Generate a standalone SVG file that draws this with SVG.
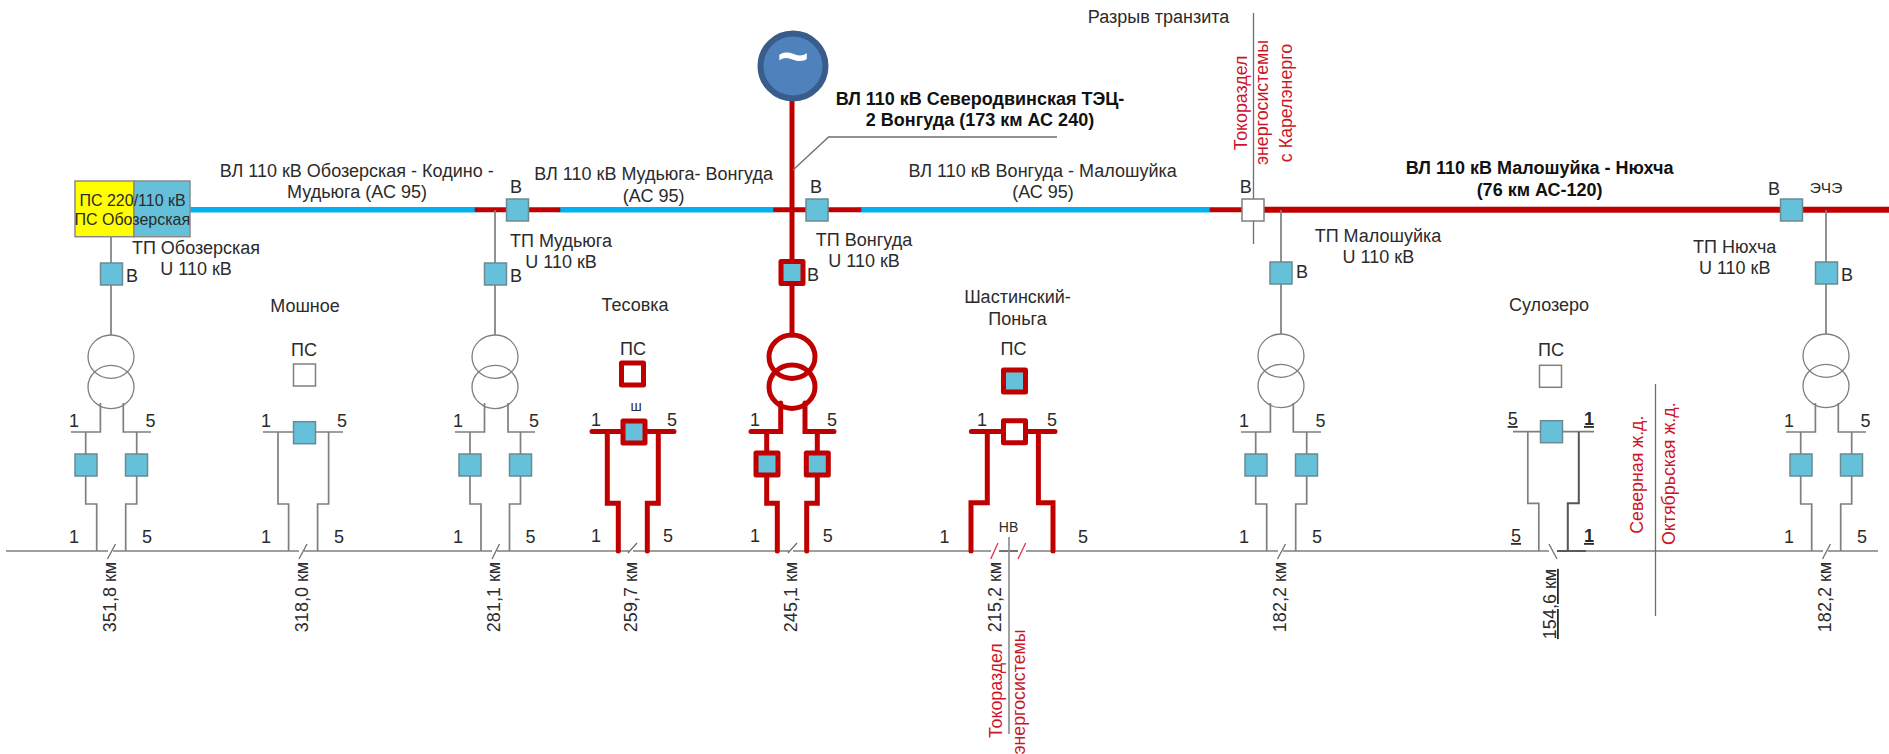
<svg xmlns="http://www.w3.org/2000/svg" width="1889" height="754" viewBox="0 0 1889 754">
<style>
text{font-family:"Liberation Sans",Arial,sans-serif;font-size:18px;fill:#2b2b2b;text-anchor:middle}
.b{font-weight:bold;fill:#111}
.r{fill:#cc1428;font-size:17.800px}
.s{font-size:14px}
.u{text-decoration:underline}
.ub{text-decoration:underline;font-weight:bold}
.w{fill:none;stroke:#7f7f7f;stroke-width:1.7}
.t{fill:none;stroke:#6e6e6e;stroke-width:1.3}
.rw{fill:none;stroke:#c00000;stroke-width:5;stroke-linecap:round;stroke-linejoin:miter}
.bl{fill:none;stroke:#00b0f0;stroke-width:5.500}
.bx{fill:#65c1d9;stroke:#6b8a93;stroke-width:1.500}
.wh{fill:#fff;stroke:#7f7f7f;stroke-width:1.500}
.rb{fill:#65c1d9;stroke:#c00000;stroke-width:5;stroke-linejoin:round}
.rbw{fill:#fff;stroke:#c00000;stroke-width:5;stroke-linejoin:round}
.c{fill:none;stroke:#7f7f7f;stroke-width:1.300}
.rc{fill:none;stroke:#c00000;stroke-width:5}
</style>
<g id="connectors">
<path class="w" d="M6 551H108M113 551H299M304 551H492M497 551H629M633 551H789M793 551H991M1026 551H1278M1283 551H1549M1557 551H1823M1828 551H1878"/>
<path d="M999 551H1018M1557 551H1586" fill="none" stroke="#444" stroke-width="1.700"/>
<path class="t" d="M107.500 559L115.500 544M299 559L307 544M492 559L499.500 544M628 553L637 543M788 553L797 543M1277.500 559L1285.500 544M1549 544L1557 559M1822.500 559L1830.500 544"/>
<path fill="none" stroke="#dd3344" stroke-width="1.300" d="M990.700 559L998 543M1018 559L1025.700 543"/>
<path class="bl" d="M190 209.700H477M558 209.700H775M859 209.700H1212"/>
<path class="rw" d="M477 209.700H507M529 209.700H558M775.500 209.700H806M828 209.700H859M1212 209.700H1242"/>
<path d="M1264 209.700H1889" fill="none" stroke="#c00000" stroke-width="6"/>
<path class="w" d="M111 237V335M495 210V335M1281 210V334M1826 210V334"/>
<path class="rw" d="M792 98V335"/>
<path class="t" d="M793 170L828.600 137H1057"/>
<path class="t" d="M1253.500 13V244M1655.500 384V616"/>
<path d="M1009 537V734" fill="none" stroke="#8a8a8a" stroke-width="1.600"/>
<path class="w" d="M71 432H100.400V403M151 432H123.300V403M85.700 432V504H96.700V551M136.700 432V504H125.700V551"/>
<path class="w" d="M263 432H343M278 432V504H288.600V551M328.600 432V504H317.600V551"/>
<path class="w" d="M455 432H484.500V403M535 432H508V403M470 432V504H481V551M520.500 432V504H509.500V551"/>
<path class="rw" d="M592 431.500H674M607.300 431.500V503.300H618.300V551M658.300 431.500V503.300H647.300V551"/>
<path class="rw" d="M751 431.500H780.700V403M834 431.500H805V403M766.700 431.500V503.300H777.300V551M817.300 431.500V503.300H806.700V551"/>
<path class="rw" d="M971.400 431.500H1055M987.300 431.500V502.700H971V551M1038.400 431.500V502.700H1053V551"/>
<path class="w" d="M1241 432H1270.400V403M1321 432H1293.300V403M1255.700 432V504H1266.700V551M1306.700 432V504H1295.700V551"/>
<path class="w" d="M1513 431.700H1594M1527.800 431.700V503.300H1538.800V551"/>
<path d="M1578.800 431.700V503.300H1567.800V551" fill="none" stroke="#555" stroke-width="2"/>
<path class="w" d="M1786 432H1815.400V403M1866 432H1838.300V403M1800.700 432V504H1811.700V551M1851.700 432V504H1840.700V551"/>
</g>
<g id="ps-obozerskaya">
<rect x="75" y="181" width="59" height="55.700" fill="#ffff00" stroke="#8a8a8a" stroke-width="1.500"/>
<rect x="134" y="181" width="56" height="55.700" fill="#65c1d9" stroke="#8a8a8a" stroke-width="1.500"/>
<text x="132.600" y="206" style="font-size:16px">ПС 220/110 кВ</text>
<text x="132.300" y="225" style="font-size:16px">ПС Обозерская</text>
</g>
<g id="tp-obozerskaya">
<rect class="bx" x="100.500" y="263" width="22" height="22"/>
<ellipse class="c" cx="111" cy="356.700" rx="23" ry="21.700"/><ellipse class="c" cx="111" cy="387" rx="23" ry="21.700"/>
<rect class="bx" x="75" y="454" width="22" height="22"/><rect class="bx" x="125.500" y="454" width="22" height="22"/>
<text x="196" y="254.300">ТП Обозерская</text><text x="196" y="275.300">U 110 кВ</text><text x="132" y="281.700">В</text>
<text x="74" y="427">1</text><text x="150.600" y="427">5</text><text x="74" y="543">1</text><text x="147" y="543">5</text>
<text transform="translate(116 597) rotate(-90)">351,8 км</text>
</g>
<g id="moshnoe">
<text x="305" y="312">Мошное</text><text x="304" y="356">ПС</text>
<rect class="wh" x="293.500" y="364" width="22" height="22"/><rect class="bx" x="293.500" y="421.700" width="22" height="22"/>
<text x="266" y="427">1</text><text x="342" y="427">5</text><text x="266" y="543">1</text><text x="339" y="543">5</text>
<text transform="translate(308 597) rotate(-90)">318,0 км</text>
</g>
<g id="tp-mudyuga">
<rect class="bx" x="506.500" y="199" width="22" height="22"/><rect class="bx" x="484.500" y="263" width="22" height="22"/>
<ellipse class="c" cx="495" cy="356.700" rx="23" ry="21.700"/><ellipse class="c" cx="495" cy="387" rx="23" ry="21.700"/>
<rect class="bx" x="459" y="454" width="22" height="22"/><rect class="bx" x="509.500" y="454" width="22" height="22"/>
<text x="516" y="192.700">В</text><text x="561" y="247">ТП Мудьюга</text><text x="561" y="268">U 110 кВ</text><text x="516" y="281.700">В</text>
<text x="458" y="427">1</text><text x="534" y="427">5</text><text x="458" y="543">1</text><text x="530.600" y="543">5</text>
<text transform="translate(500 597) rotate(-90)">281,1 км</text>
</g>
<g id="tesovka">
<text x="635" y="311">Тесовка</text><text x="633" y="355">ПС</text>
<rect class="rbw" x="621.500" y="363" width="22" height="22"/><rect class="rb" x="623" y="421" width="22" height="22"/>
<text x="636" y="411" class="s">ш</text>
<text x="596" y="426">1</text><text x="672" y="426">5</text><text x="596" y="542">1</text><text x="668" y="542">5</text>
<text transform="translate(637 597) rotate(-90)">259,7 км</text>
</g>
<g id="tp-vonguda">
<circle cx="793" cy="66" r="32.500" fill="#4f81bd" stroke="#385d8a" stroke-width="6"/>
<text x="793" y="75" style="fill:#fff;font-size:54px;font-weight:bold">~</text>
<rect class="bx" x="806" y="199" width="22" height="22"/>
<rect class="rb" x="781" y="261.500" width="22" height="22"/>
<ellipse class="rc" cx="792" cy="356.700" rx="23" ry="21.700"/><ellipse class="rc" cx="792" cy="386.700" rx="23" ry="21.700"/>
<rect class="rb" x="756" y="453" width="22" height="22"/><rect class="rb" x="806.300" y="453" width="22" height="22"/>
<text x="816" y="192.700">В</text><text x="864" y="245.700">ТП Вонгуда</text><text x="864" y="266.700">U 110 кВ</text><text x="813" y="281">В</text>
<text x="755" y="426">1</text><text x="832" y="426">5</text><text x="755" y="542">1</text><text x="827.700" y="542">5</text>
<text transform="translate(797 597) rotate(-90)">245,1 км</text>
</g>
<g id="shastinsky">
<text x="1017.500" y="303">Шастинский-</text><text x="1017.500" y="325">Поньга</text><text x="1013.500" y="355">ПС</text>
<rect class="rb" x="1003.500" y="370" width="22" height="22"/><rect class="rbw" x="1003.500" y="420.700" width="22" height="22"/>
<text x="1008.600" y="532" class="s">НВ</text>
<text x="982" y="426">1</text><text x="1052" y="426">5</text><text x="944.500" y="542.700">1</text><text x="1083" y="542.700">5</text>
<text transform="translate(1001 597) rotate(-90)">215,2 км</text>
</g>
<g id="tp-maloshuyka">
<rect class="wh" x="1242" y="199" width="22" height="22"/>
<rect class="bx" x="1270" y="262" width="22" height="22"/>
<ellipse class="c" cx="1281" cy="355.700" rx="23" ry="21.700"/><ellipse class="c" cx="1281" cy="386" rx="23" ry="21.700"/>
<rect class="bx" x="1245" y="454" width="22" height="22"/><rect class="bx" x="1295.500" y="454" width="22" height="22"/>
<text x="1245.700" y="192.700">В</text><text x="1302" y="277.700">В</text><text x="1378" y="241.700">ТП Малошуйка</text><text x="1378.400" y="262.700">U 110 кВ</text>
<text x="1244" y="427">1</text><text x="1320.600" y="427">5</text><text x="1244" y="543">1</text><text x="1317" y="543">5</text>
<text transform="translate(1286 597) rotate(-90)">182,2 км</text>
</g>
<g id="sulozero">
<text x="1549" y="311">Сулозеро</text><text x="1551" y="355.700">ПС</text>
<rect class="wh" x="1539.500" y="365.300" width="22" height="22"/><rect class="bx" x="1540.500" y="420.700" width="22" height="22"/>
<text x="1512.700" y="425" class="u">5</text><text x="1589" y="425" class="ub">1</text><text x="1516" y="542" class="u">5</text><text x="1589" y="542" class="ub">1</text>
<text transform="translate(1556 604) rotate(-90)" class="u">154,6 км</text>
</g>
<g id="tp-nyukhcha">
<rect class="bx" x="1780.500" y="199" width="22" height="22"/><rect class="bx" x="1815.500" y="262" width="22" height="22"/>
<ellipse class="c" cx="1826" cy="355.700" rx="23" ry="21.700"/><ellipse class="c" cx="1826" cy="386" rx="23" ry="21.700"/>
<rect class="bx" x="1790" y="454" width="22" height="22"/><rect class="bx" x="1840.500" y="454" width="22" height="22"/>
<text x="1774" y="195">В</text><text x="1826" y="193" style="font-size:15.500px">ЭЧЭ</text><text x="1847" y="280.700">В</text>
<text x="1734.700" y="253">ТП Нюхча</text><text x="1734.700" y="274">U 110 кВ</text>
<text x="1789" y="427">1</text><text x="1865.600" y="427">5</text><text x="1789" y="543">1</text><text x="1862" y="543">5</text>
<text transform="translate(1831 597) rotate(-90)">182,2 км</text>
</g>
<g id="labels">
<text x="356.700" y="176.700">ВЛ 110 кВ Обозерская - Кодино -</text><text x="357" y="198">Мудьюга (АС 95)</text>
<text x="653.600" y="180">ВЛ 110 кВ Мудьюга- Вонгуда</text><text x="653.600" y="201.700">(АС 95)</text>
<text x="980" y="105" class="b">ВЛ 110 кВ Северодвинская ТЭЦ-</text><text x="980" y="126" class="b">2 Вонгуда (173 км АС 240)</text>
<text x="1042.600" y="176.700">ВЛ 110 кВ Вонгуда - Малошуйка</text><text x="1043" y="198">(АС 95)</text>
<text x="1158.600" y="23">Разрыв транзита</text>
<text x="1539.600" y="174.300" class="b">ВЛ 110 кВ Малошуйка - Нюхча</text><text x="1539.600" y="196" class="b">(76 км АС-120)</text>
<text class="r" transform="translate(1247 103) rotate(-90)">Токораздел</text>
<text class="r" transform="translate(1268 102.500) rotate(-90)">энергосистемы</text>
<text class="r" transform="translate(1292 103) rotate(-90)">с Карелэнерго</text>
<text class="r" transform="translate(1001.500 690.600) rotate(-90)">Токораздел</text>
<text class="r" transform="translate(1025 692) rotate(-90)">энергосистемы</text>
<text class="r" transform="translate(1643 474.700) rotate(-90)">Северная ж.д.</text>
<text class="r" transform="translate(1675 473.700) rotate(-90)">Октябрьская ж.д.</text>
</g>
</svg>
